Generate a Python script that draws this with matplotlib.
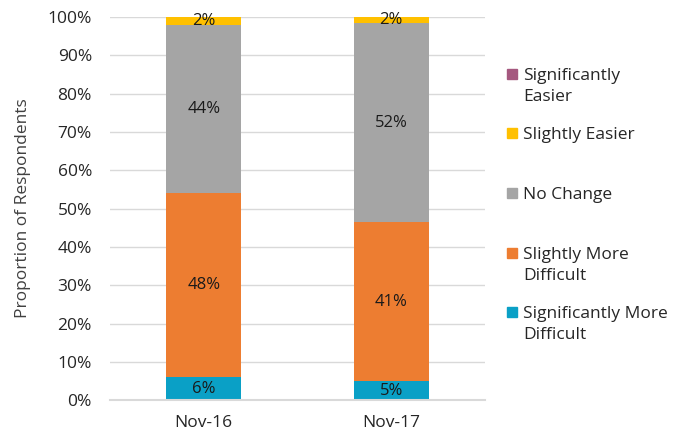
import numpy as np
import matplotlib.pyplot as plt
from matplotlib.patches import Rectangle

plt.rcParams['font.family'] = ['Open Sans', 'DejaVu Sans']

periods = ["Nov-16", "Nov-17"]
series = ["Significantly More\nDifficult", "Slightly More\nDifficult", "No Change",
          "Slightly Easier", "Significantly\nEasier"]
sig_more_difficult = [6.0, 5.0]
slight_more_difficult = [48.0, 41.4]
no_change = [44.0, 51.9]
slight_easier = [2.0, 1.7]
sig_easier = [0.0, 0.0]
colors = ["#0AA0C6", "#ED7D31", "#A5A5A5", "#FFC000", "#A5587F"]

values = [sig_more_difficult, slight_more_difficult, no_change, slight_easier, sig_easier]

fig = plt.figure(figsize=(6.83, 4.34), dpi=100)
ax = fig.add_axes([0.161, 0.078, 0.549, 0.883])

x = np.arange(len(periods))
bottom = np.zeros(len(periods))
for vals, col in zip(values, colors):
    vals = np.array(vals)
    ax.bar(x, vals, 0.4, bottom=bottom, color=col, zorder=2)
    for xi, b, v in zip(x, bottom, vals):
        if v > 0:
            ax.text(xi, b + v / 2, f"{v:.0f}%", ha="center", va="center",
                    fontsize=12, color="#1a1a1a", zorder=3)
    bottom += vals

ax.set_xlim(-0.5, 1.5)
ax.set_ylim(0, 100)
ax.set_xticks(x)
ax.set_xticklabels(periods, fontsize=12.5, color="#262626")
ax.set_yticks(np.arange(0, 101, 10))
ax.set_yticklabels([f"{t}%" for t in range(0, 101, 10)], fontsize=12.5, color="#262626")
ax.tick_params(length=0, pad=13)
ax.tick_params(axis="x", pad=11)
ax.yaxis.grid(True, color="#D9D9D9", lw=1, zorder=0)
for s in ["top", "right", "left"]:
    ax.spines[s].set_visible(False)
ax.spines["bottom"].set_color("#D9D9D9")
ax.spines["bottom"].set_linewidth(1.5)
ax.set_ylabel("Proportion of Respondents", fontsize=12.5, color="#404040", labelpad=12)

# legend, top entry first
leg_y = [74, 133, 193, 253, 312]
for i, (name, col) in enumerate(zip(series[::-1], colors[::-1])):
    yp = 1 - leg_y[i] / 434
    fig.patches.append(Rectangle((507 / 683, yp - 5 / 434), 10 / 683, 10 / 434,
                                 transform=fig.transFigure, color=col))
    fig.text(523 / 683, yp + 6 / 434, name, fontsize=12.5, color="#262626",
             va="top", ha="left", linespacing=1.45)

fig.savefig("out.png", dpi=100)
